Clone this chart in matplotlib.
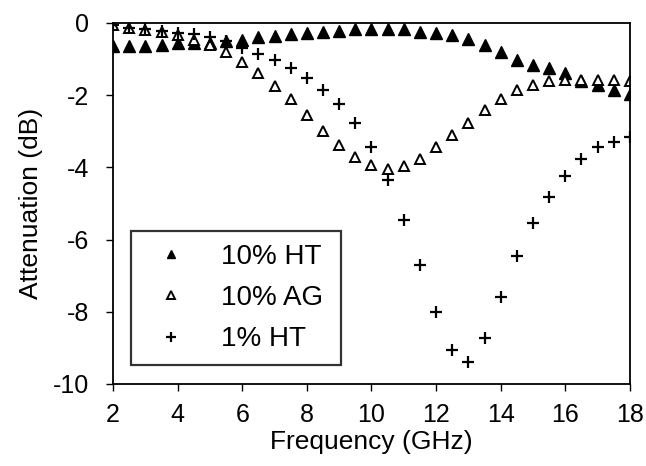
import numpy as np
from matplotlib import pyplot as plt

plt.rcParams['font.family'] = ['Liberation Sans', 'DejaVu Sans']
plt.rcParams['axes.unicode_minus'] = False

# frequency points (GHz), 0.5 GHz step
freq = np.arange(2.0, 18.01, 0.5)

# attenuation (dB)
ht10 = [-0.65, -0.65, -0.65, -0.62, -0.57, -0.55, -0.55, -0.5, -0.47, -0.4,
        -0.37, -0.31, -0.28, -0.25, -0.22, -0.18, -0.16, -0.16, -0.18, -0.25,
        -0.28, -0.34, -0.46, -0.62, -0.82, -1.03, -1.17, -1.26, -1.38, -1.6,
        -1.73, -1.85, -1.97]
ag10 = [-0.05, -0.15, -0.2, -0.25, -0.34, -0.48, -0.62, -0.82, -1.08, -1.4,
        -1.75, -2.12, -2.56, -2.99, -3.37, -3.71, -3.94, -4.05, -3.97, -3.76,
        -3.45, -3.11, -2.77, -2.42, -2.12, -1.86, -1.73, -1.61, -1.59, -1.57,
        -1.59, -1.59, -1.61]
ht1 = [-0.05, -0.15, -0.18, -0.22, -0.27, -0.3, -0.39, -0.5, -0.71, -0.85,
       -1.03, -1.25, -1.52, -1.85, -2.25, -2.77, -3.45, -4.34, -5.45, -6.71,
       -8.0, -9.07, -9.39, -8.74, -7.59, -6.45, -5.55, -4.82, -4.24, -3.78,
       -3.45, -3.3, -3.16]

labels = ['10% HT', '10% AG', '1% HT']
xticks = [2, 4, 6, 8, 10, 12, 14, 16, 18]
yticks = [0, -2, -4, -6, -8, -10]

fig = plt.figure(figsize=(6.46, 4.66), dpi=100)
ax = fig.add_axes((0.175, 0.176, 0.8, 0.775))

ax.plot(freq, ht10, ls='none', marker='^', ms=8, color='black', label=labels[0])
ax.plot(freq, ag10, ls='none', marker='^', ms=7.5, mfc='white', mec='black',
        mew=1.4, label=labels[1])
ax.plot(freq, ht1, ls='none', marker='+', ms=8.5, mew=1.6, color='black', label=labels[2])

ax.set_xlim(2, 18)
ax.set_ylim(-10, 0)
ax.set_xticks(xticks)
ax.set_yticks(yticks)
ax.tick_params(direction='out', length=5, width=1, labelsize=18)
ax.tick_params(axis='x', pad=9)
ax.tick_params(axis='y', pad=12)
for s in ax.spines.values():
    s.set_linewidth(1.3)

ax.set_xlabel('Frequency (GHz)', fontsize=19, labelpad=2)
ax.set_ylabel('Attenuation (dB)', fontsize=19, labelpad=7)

leg = ax.legend(loc='lower left', bbox_to_anchor=(0.035, 0.053, 0.406, 0.374),
                mode='expand', fontsize=20, frameon=True, fancybox=False,
                edgecolor='black', borderaxespad=0, handletextpad=0.85,
                handlelength=1.95, borderpad=0.45, labelspacing=0.55, markerscale=0.8)
leg.get_frame().set_linewidth(1.6)

plt.savefig('out.png', dpi=100)
